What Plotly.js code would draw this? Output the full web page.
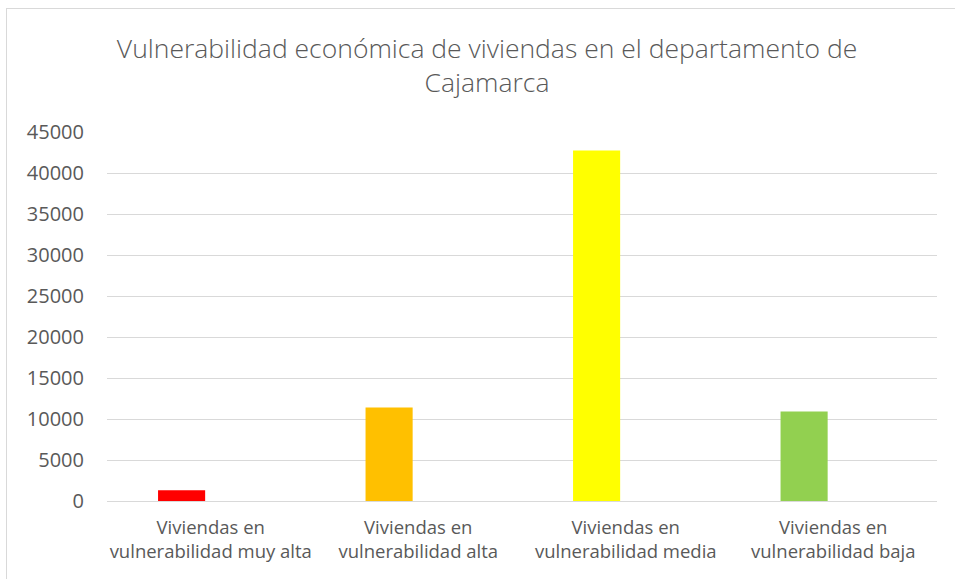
<!DOCTYPE html>
<html>
<head>
<meta charset="utf-8">
<script src="https://cdn.plot.ly/plotly-3.0.1.min.js"></script>
<style>
  html, body { margin: 0; padding: 0; background: #fff; }
  #wrap { position: relative; width: 955px; height: 579px; overflow: hidden; }
  #chart { position: absolute; left: 0; top: 0; width: 955px; height: 579px; }
  #frame { position: absolute; left: 6px; top: 8px; width: 960px; height: 600px;
           border: 1px solid #d9d9d9; box-sizing: border-box; pointer-events: none; }
</style>
</head>
<body>
<div id="wrap">
  <div id="chart"></div>
  <div id="frame"></div>
</div>
<script>
const categories = [
  "Viviendas en<br>vulnerabilidad muy alta",
  "Viviendas en<br>vulnerabilidad alta",
  "Viviendas en<br>vulnerabilidad media",
  "Viviendas en<br>vulnerabilidad baja"
];
const values = [1300, 11400, 42750, 10900];
const barColors = ["#ff0000", "#ffc000", "#ffff00", "#92d050"];
const yTicks = [0, 5000, 10000, 15000, 20000, 25000, 30000, 35000, 40000, 45000];

const FONT = "Open Sans, Calibri, sans-serif";

Plotly.newPlot("chart", [{
  type: "bar",
  x: categories,
  y: values,
  marker: { color: barColors },
  width: 0.227,
  offset: -0.254,
  hoverinfo: "x+y"
}], {
  width: 955,
  height: 579,
  paper_bgcolor: "#ffffff",
  plot_bgcolor: "#ffffff",
  margin: { l: 107, r: 18, t: 132, b: 78 },
  showlegend: false,
  title: {
    text: "Vulnerabilidad económica de viviendas en el departamento de<br>Cajamarca",
    font: { family: FONT, size: 26.5, color: "#595959", weight: 300 },
    x: 0.51, xanchor: "center",
    y: 0.9, yanchor: "middle"
  },
  xaxis: {
    type: "category",
    tickfont: { family: FONT, size: 18.5, color: "#595959" },
    showgrid: false,
    showline: false,
    ticks: "",
    ticklabelstandoff: 13
  },
  yaxis: {
    range: [0, 45000],
    tickvals: yTicks,
    ticktext: yTicks.map(String),
    tickfont: { family: FONT, size: 20, color: "#595959" },
    showgrid: true,
    gridcolor: "#d9d9d9",
    gridwidth: 1,
    zeroline: true,
    zerolinecolor: "#d9d9d9",
    zerolinewidth: 1,
    showline: false,
    ticks: "",
    ticklabelstandoff: 22
  }
}, { displayModeBar: false, staticPlot: true });
</script>
</body>
</html>
